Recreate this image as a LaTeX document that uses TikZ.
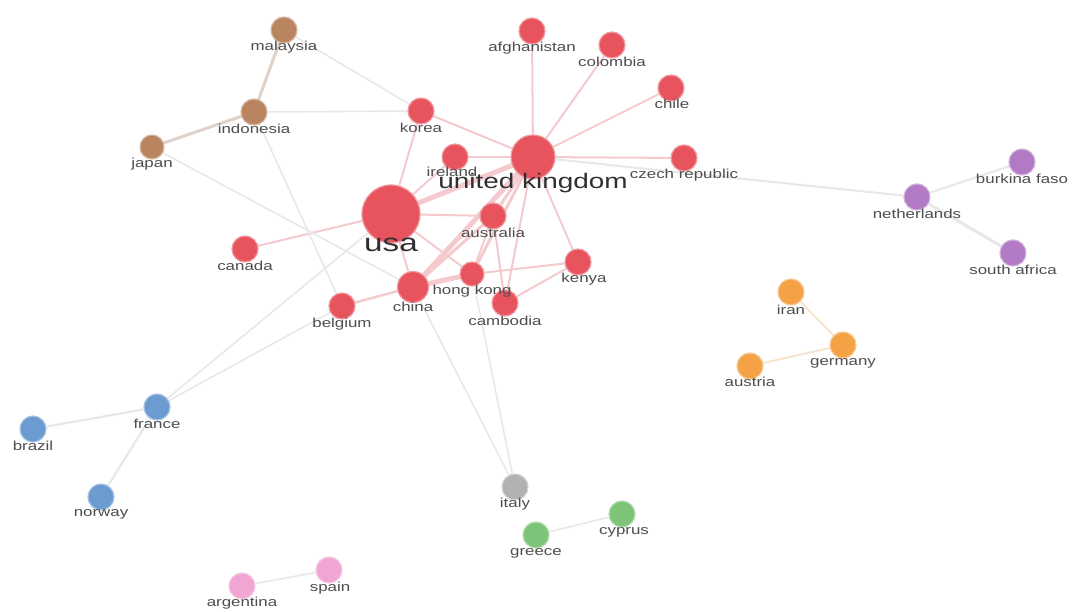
\documentclass[tikz,border=0pt]{standalone}
\usepackage{fontspec}
\newfontfamily\labfont[FakeStretch=1.3]{Liberation Sans}
\newfontfamily\bigfont[FakeStretch=1.33]{Liberation Sans}
\definecolor{cred}{RGB}{232,84,94}
\definecolor{cbrown}{RGB}{184,133,96}
\definecolor{cpurple}{RGB}{178,122,196}
\definecolor{corange}{RGB}{245,162,70}
\definecolor{cblue}{RGB}{107,155,209}
\definecolor{cgray}{RGB}{178,178,178}
\definecolor{cgreen}{RGB}{125,196,120}
\definecolor{cpink}{RGB}{240,165,210}
\definecolor{cpe}{RGB}{245,202,206}
\definecolor{cge}{RGB}{232,232,232}
\definecolor{cbe}{RGB}{222,210,202}
\definecolor{coe}{RGB}{247,226,202}
\definecolor{clab}{RGB}{78,78,78}
\definecolor{cbig}{RGB}{48,48,48}
\pgfdeclarelayer{bg}
\pgfdeclarelayer{edges}
\pgfsetlayers{bg,edges,main}
\begin{document}
\begin{tikzpicture}[x=1pt,y=-1pt,
  dot/.style={circle,inner sep=0pt,minimum size=26pt,line width=1.2pt},
  rd/.style={dot,fill=cred,draw=cred!60!white},
  br/.style={dot,fill=cbrown,draw=cbrown!60!white},
  pu/.style={dot,fill=cpurple,draw=cpurple!60!white},
  og/.style={dot,fill=corange,draw=corange!60!white},
  bl/.style={dot,fill=cblue,draw=cblue!60!white},
  gy/.style={dot,fill=cgray,draw=cgray!60!white},
  gn/.style={dot,fill=cgreen,draw=cgreen!60!white},
  pk/.style={dot,fill=cpink,draw=cpink!60!white},
  lab/.style={font=\labfont\fontsize{13}{15}\selectfont,text=clab,inner sep=0pt},
  biglab/.style={font=\bigfont\fontsize{#1}{#1}\selectfont,text=cbig,inner sep=0pt},
  pe/.style={draw=cpe,line width=2pt},
  ge/.style={draw=cge,line width=1.6pt},
  be/.style={draw=cbe,line width=3pt},
  oe/.style={draw=coe,line width=1.8pt}]
\begin{pgfonlayer}{bg}
\fill[white] (0,0) rectangle (1072,612);
\end{pgfonlayer}
% red cluster
\node[rd,minimum size=58pt] (usa) at (391,214) {};
\node[rd,minimum size=44pt] (uk) at (533,157) {};
\node[rd] (korea) at (421,111) {};
\node[rd] (afghanistan) at (532,31) {};
\node[rd] (colombia) at (612,45) {};
\node[rd] (chile) at (671,88) {};
\node[rd] (ireland) at (455,157) {};
\node[rd] (czech) at (684,158) {};
\node[rd] (australia) at (493,216) {};
\node[rd] (canada) at (245,249) {};
\node[rd] (kenya) at (578,262) {};
\node[rd,minimum size=24pt] (hongkong) at (472,274) {};
\node[rd,minimum size=31pt] (china) at (413,287) {};
\node[rd] (cambodia) at (505,303) {};
\node[rd] (belgium) at (342,306) {};
% brown
\node[br] (malaysia) at (284,30) {};
\node[br] (indonesia) at (254,112) {};
\node[br,minimum size=24pt] (japan) at (152,147) {};
% purple
\node[pu] (netherlands) at (917,197) {};
\node[pu] (burkina) at (1022,162) {};
\node[pu] (southafrica) at (1013,253) {};
% orange
\node[og] (iran) at (791,292) {};
\node[og] (germany) at (843,345) {};
\node[og] (austria) at (750,366) {};
% blue
\node[bl] (france) at (157,407) {};
\node[bl] (brazil) at (33,429) {};
\node[bl] (norway) at (101,497) {};
% others
\node[gy] (italy) at (515,487) {};
\node[gn] (greece) at (536,535) {};
\node[gn] (cyprus) at (622,514) {};
\node[pk] (spain) at (329,570) {};
\node[pk] (argentina) at (242,586) {};
% edges
\begin{pgfonlayer}{edges}
\draw[pe,line width=5pt] (usa) -- (uk);
\draw[pe,line width=5pt] (uk) -- (china);
\draw[pe,line width=5pt] (china) -- (hongkong);
\draw[pe,line width=3pt] (uk) -- (hongkong);
\draw[pe,line width=3pt] (uk) -- (australia);
\draw[pe,line width=3pt] (australia) -- (china);
\draw[pe] (uk) -- (afghanistan);
\draw[pe] (uk) -- (colombia);
\draw[pe] (uk) -- (chile);
\draw[pe] (uk) -- (czech);
\draw[pe] (uk) -- (ireland);
\draw[pe] (uk) -- (korea);
\draw[pe] (uk) -- (kenya);
\draw[pe] (uk) -- (cambodia);
\draw[pe] (usa) -- (ireland);
\draw[pe] (usa) -- (korea);
\draw[pe] (usa) -- (australia);
\draw[pe] (usa) -- (canada);
\draw[pe] (usa) -- (china);
\draw[pe] (usa) -- (hongkong);
\draw[pe] (australia) -- (hongkong);
\draw[pe] (australia) -- (cambodia);
\draw[pe] (hongkong) -- (kenya);
\draw[pe] (cambodia) -- (kenya);
\draw[pe,line width=2.5pt] (china) -- (belgium);
\draw[be] (malaysia) -- (indonesia);
\draw[be] (indonesia) -- (japan);
\draw[ge] (malaysia) -- (korea);
\draw[ge] (indonesia) -- (korea);
\draw[ge] (indonesia) -- (belgium);
\draw[ge] (japan) -- (china);
\draw[ge] (usa) -- (france);
\draw[ge] (belgium) -- (france);
\draw[ge,line width=2pt] (uk) -- (netherlands);
\draw[ge] (china) -- (italy);
\draw[ge] (hongkong) -- (italy);
\draw[ge,line width=2.2pt] (netherlands) -- (burkina);
\draw[ge,line width=3pt] (netherlands) -- (southafrica);
\draw[oe] (iran) -- (germany);
\draw[oe] (germany) -- (austria);
\draw[ge,line width=2.2pt] (france) -- (brazil);
\draw[ge,line width=2.2pt] (france) -- (norway);
\draw[ge] (greece) -- (cyprus);
\draw[ge] (spain) -- (argentina);
\end{pgfonlayer}
% labels
\node[lab] (korea-l) at (421,128) {korea};
\node[lab] (afghanistan-l) at (532,48) {afghanistan};
\node[lab] (colombia-l) at (612,62) {colombia};
\node[lab] (chile-l) at (672,104) {chile};
\node[lab] (ireland-l) at (452,172) {ireland};
\node[lab] (czech-l) at (684,175) {czech republic};
\node[lab] (australia-l) at (493,233) {australia};
\node[lab] (canada-l) at (245,266) {canada};
\node[lab] (kenya-l) at (584,279) {kenya};
\node[lab] (hongkong-l) at (472,291) {hong kong};
\node[lab] (china-l) at (413,307) {china};
\node[lab] (cambodia-l) at (505,321) {cambodia};
\node[lab] (belgium-l) at (342,324) {belgium};
\node[lab] (malaysia-l) at (284,47) {malaysia};
\node[lab] (indonesia-l) at (254,129) {indonesia};
\node[lab] (japan-l) at (152,164) {japan};
\node[lab] (netherlands-l) at (917,214) {netherlands};
\node[lab] (burkina-l) at (1022,179) {burkina faso};
\node[lab] (southafrica-l) at (1013,270) {south africa};
\node[lab] (iran-l) at (791,310) {iran};
\node[lab] (germany-l) at (843,363) {germany};
\node[lab] (austria-l) at (750,382) {austria};
\node[lab] (france-l) at (157,424) {france};
\node[lab] (brazil-l) at (33,446) {brazil};
\node[lab] (norway-l) at (101,514) {norway};
\node[lab] (italy-l) at (515,504) {italy};
\node[lab] (greece-l) at (536,553) {greece};
\node[lab] (cyprus-l) at (624,532) {cyprus};
\node[lab] (spain-l) at (330,588) {spain};
\node[lab] (argentina-l) at (242,603) {argentina};
\node[biglab=21] (uk-l) at (533,183) {united kingdom};
\node[biglab=25] (usa-l) at (391,245) {usa};
\end{tikzpicture}
\end{document}
